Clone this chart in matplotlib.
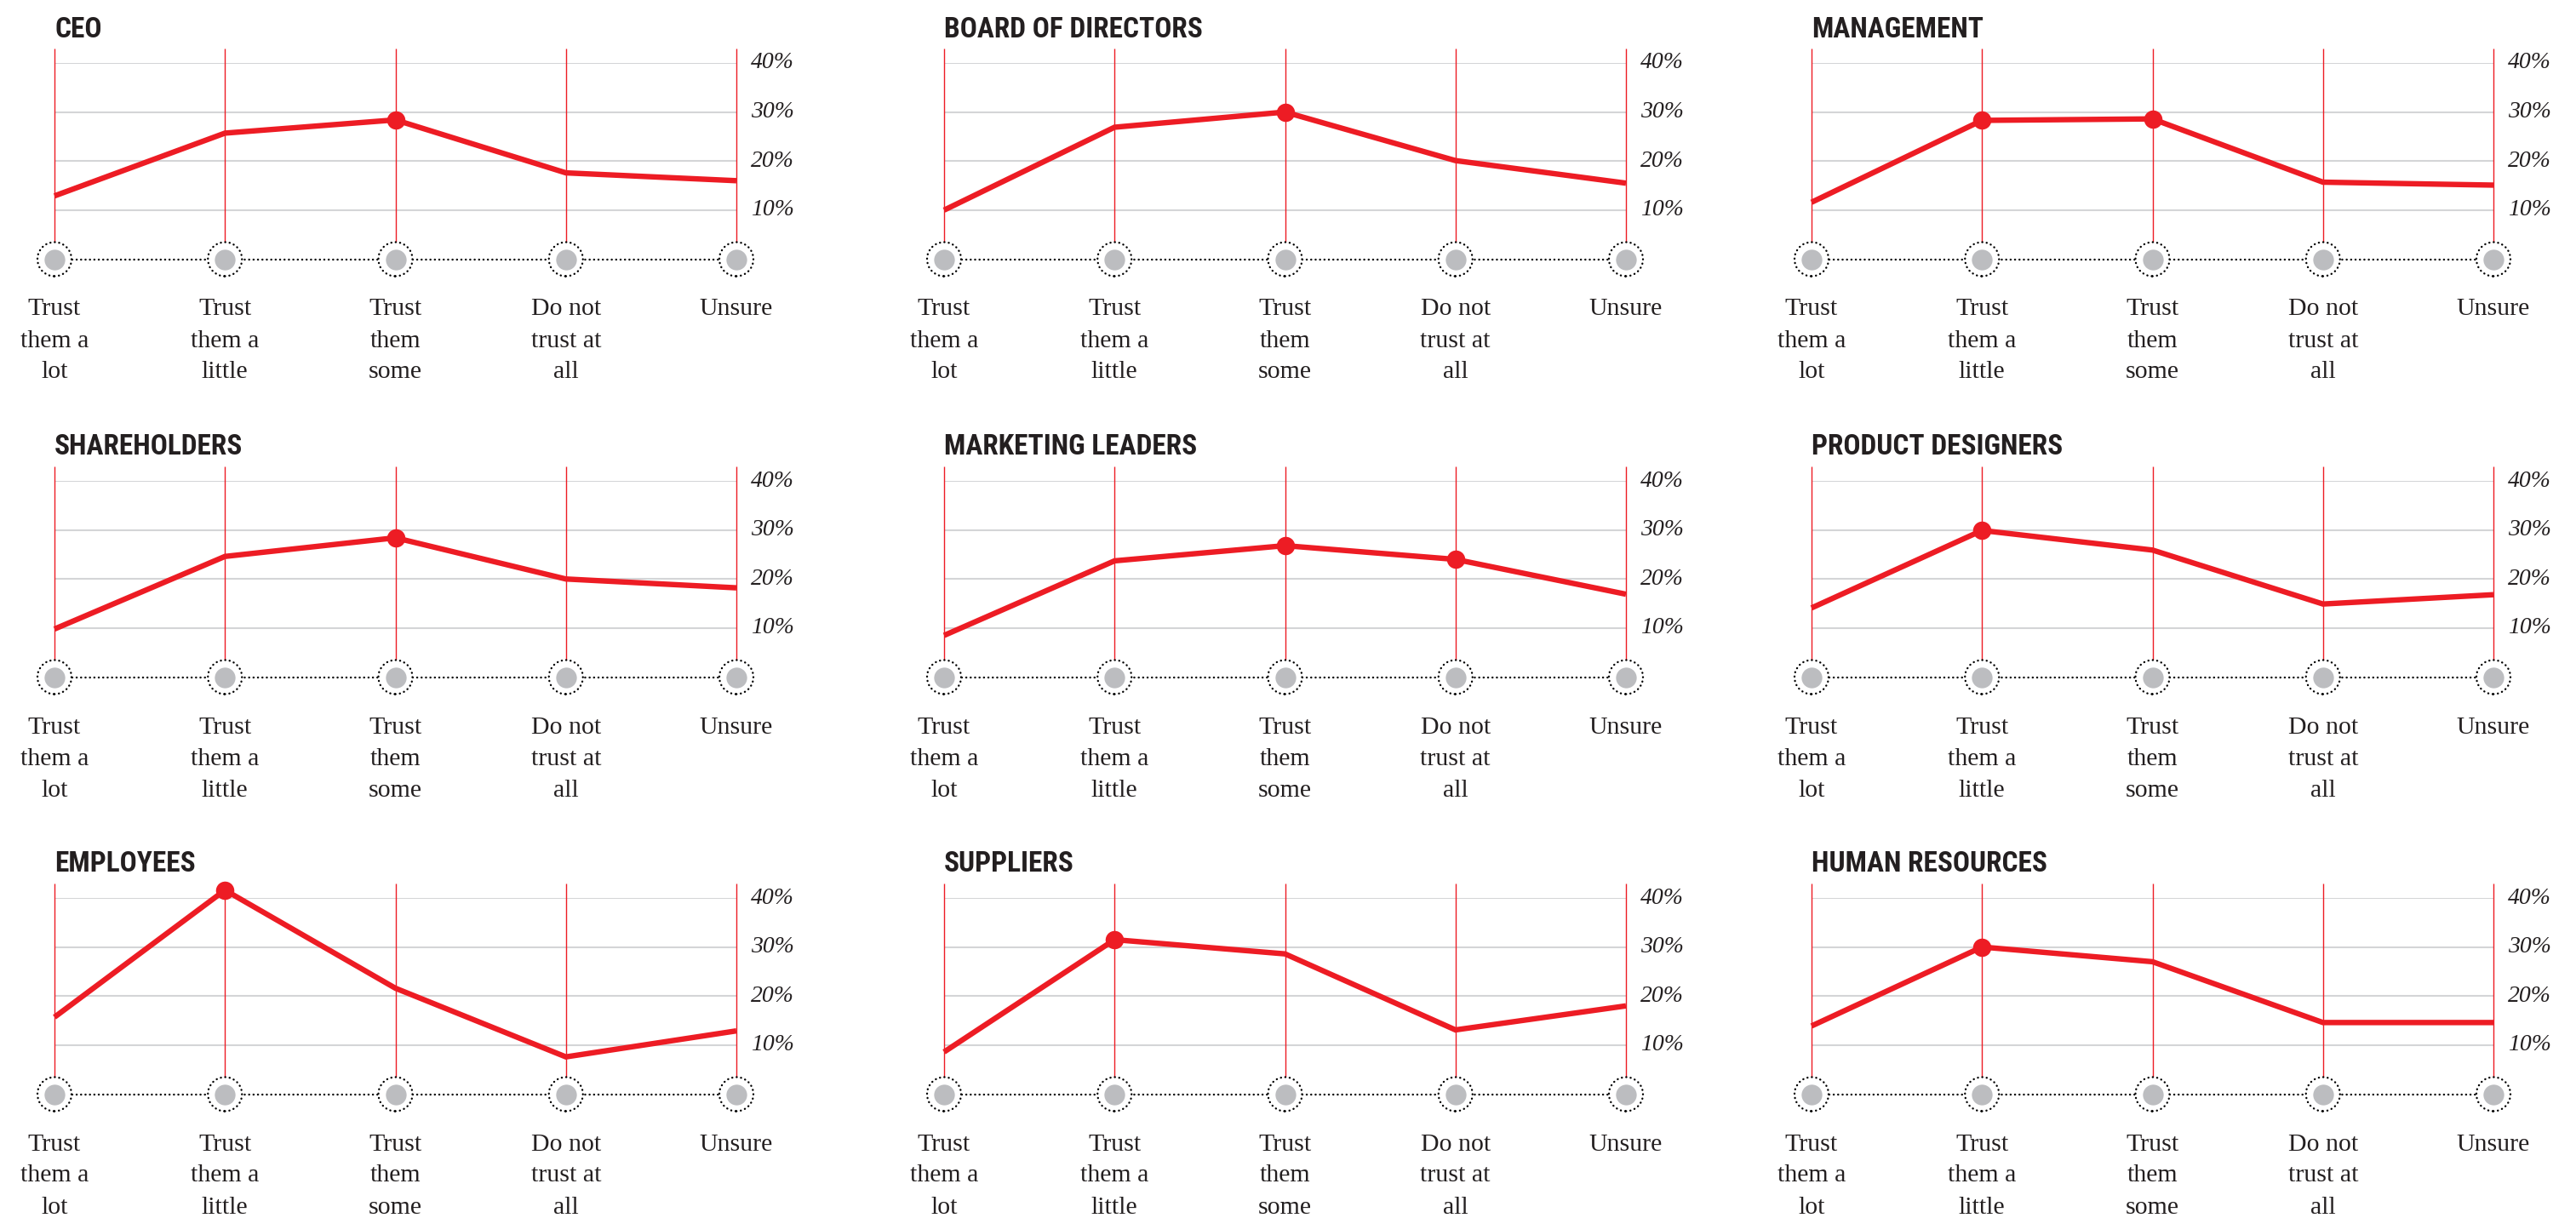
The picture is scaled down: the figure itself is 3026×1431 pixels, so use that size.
import matplotlib
matplotlib.use("Agg")
import matplotlib.pyplot as plt
from matplotlib.patches import Ellipse

W, H, DPI = 3026, 1431, 100

RED = "#ED1C24"
GRID = "#D4D5D7"
DOT = "#BCBDC0"
INK = "#231F20"

categories = ["Trust\nthem a\nlot", "Trust\nthem a\nlittle", "Trust\nthem\nsome",
              "Do not\ntrust at\nall", "Unsure"]
ticks = [10, 20, 30, 40]

titles = ["CEO", "BOARD OF DIRECTORS", "MANAGEMENT",
          "SHAREHOLDERS", "MARKETING LEADERS", "PRODUCT DESIGNERS",
          "EMPLOYEES", "SUPPLIERS", "HUMAN RESOURCES"]

# share of respondents (%) per answer, in category order
ceo = [12.9, 25.7, 28.4, 17.6, 16.0]
board = [10.0, 26.9, 30.0, 20.1, 15.5]
management = [11.6, 28.3, 28.6, 15.7, 15.1]
shareholders = [9.8, 24.6, 28.4, 20.0, 18.2]
marketing = [8.5, 23.7, 26.8, 24.0, 16.9]
product = [14.1, 29.9, 25.9, 14.9, 16.8]
employees = [15.7, 41.6, 21.6, 7.6, 12.9]
suppliers = [8.6, 31.5, 28.6, 13.1, 18.0]
hr = [13.9, 30.0, 27.0, 14.6, 14.6]
series = [ceo, board, management, shareholders, marketing, product,
          employees, suppliers, hr]

# answers marked with a dot on each line
marked = [[2], [2], [1, 2], [2], [2, 3], [1], [1], [1], [1]]

# panel geometry in pixels
col_x = [64, 1109, 2128]
span_x = 801
row_zero = [304.5, 795.5, 1285.5]
span_40 = 230.5
rule_top = 247.5     # red rules reach this far above the baseline
ring = 20

serif = ["Liberation Serif", "DejaVu Serif"]
narrow = ["Liberation Sans Narrow", "Roboto Condensed", "DejaVu Sans"]

fig = plt.figure(figsize=(W / DPI, H / DPI), dpi=DPI)

for i, (title, vals, hi) in enumerate(zip(titles, series, marked)):
    r, c = divmod(i, 3)
    x0, y0 = col_x[c], row_zero[r]
    ax = fig.add_axes([x0 / W, 1 - y0 / H, span_x / W, span_40 / H])
    ax.set_xlim(0, 4)
    ax.set_ylim(0, 40)
    ax.axis("off")
    sx = 4 / span_x      # data units per pixel
    sy = 40 / span_40
    xs = range(len(categories))

    ax.hlines(ticks, 0, 4, color=GRID, lw=1.5, zorder=1)
    ax.vlines(xs, 0, rule_top * sy, color=RED, lw=1.0, zorder=2,
              clip_on=False)

    # baseline with dotted rings and grey dots
    ax.plot([0, 4], [0, 0], color="black", lw=1.7, ls=(0, (0.1, 2.1)),
            dash_capstyle="round", zorder=3, clip_on=False)
    for x in xs:
        ax.add_patch(Ellipse((x, 0), 2 * ring * sx, 2 * ring * sy,
                             facecolor="white", edgecolor="black", lw=1.7,
                             ls=(0, (0.1, 2.1)), capstyle="round",
                             zorder=4, clip_on=False))
    ax.scatter(xs, [0] * 5, s=17.5 ** 2, color=DOT, zorder=5,
               clip_on=False, linewidths=0)

    ax.plot(xs, vals, color=RED, lw=4.6, solid_joinstyle="miter",
            solid_capstyle="butt", zorder=6, clip_on=False)
    ax.plot([xs[k] for k in hi], [vals[k] for k in hi], "o", color=RED,
            ms=15.5, mew=0, zorder=7, clip_on=False)

    for t in ticks:
        ax.text(4 + 17 * sx, t, f"{t}%", family=serif, style="italic",
                fontsize=20, color=INK, ha="left", va="center")

    for x, lab in zip(xs, categories):
        ax.text(x, -46 * sy, lab, family=serif, fontsize=21.5, color=INK,
                ha="center", va="top", linespacing=1.55)

    ax.text(0, 270 * sy, title, family=narrow, fontstretch="condensed",
            weight="bold", fontsize=24, color=INK, ha="left", va="center")

fig.savefig("out.png", dpi=DPI)
